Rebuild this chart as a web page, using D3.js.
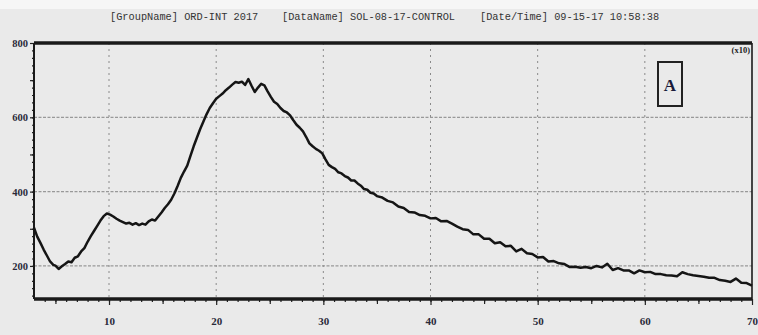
<!DOCTYPE html>
<html>
<head>
<meta charset="utf-8">
<script src="https://cdn.jsdelivr.net/npm/d3@7"></script>
<style>
  html, body { margin: 0; padding: 0; background: #eaeaea; }
  svg { display: block; }
  .tick text { font-family: "Liberation Serif", serif; font-weight: bold; fill: #2a2a3a; }
</style>
</head>
<body>
<div id="chart"></div>
<script>
const headerLabels = ["[GroupName] ORD-INT 2017", "[DataName] SOL-08-17-CONTROL", "[Date/Time] 09-15-17 10:58:38"];
const xTicks = [10, 20, 30, 40, 50, 60, 70];
const yTicks = [200, 400, 600, 800];
const unitLabel = "(x10)";
const panelLabel = "A";

// retention time (min) and intensity
const time = [3.0, 3.3, 3.6, 3.9, 4.2, 4.5, 4.8, 5.0, 5.3, 5.6, 5.9, 6.2, 6.5, 6.8, 7.1, 7.4, 7.7, 8.0, 8.3, 8.6, 8.9,
  9.2, 9.5, 9.8, 10.1, 10.4, 10.7, 11.0, 11.3, 11.6, 11.9, 12.2, 12.5, 12.8, 13.1, 13.4, 13.7, 14.0, 14.3, 14.6, 14.9,
  15.2, 15.5, 15.8, 16.1, 16.4, 16.7, 17.0, 17.3, 17.6, 17.9, 18.2, 18.5, 18.8, 19.1, 19.4, 19.7, 20.0, 20.3, 20.6,
  20.9, 21.2, 21.5, 21.8, 22.1, 22.4, 22.7, 23.0, 23.3, 23.6, 23.9, 24.2, 24.5, 24.8, 25.1, 25.4, 25.7, 26.0, 26.3,
  26.6, 26.9, 27.2, 27.5, 27.8, 28.1, 28.4, 28.7, 29.0, 29.3, 29.6, 29.9, 30.2, 30.5, 30.8, 31.1, 31.4, 31.7, 32.0,
  32.3, 32.6, 32.9, 33.2, 33.5, 33.8, 34.1, 34.4, 34.7, 35.0, 35.5, 36.0, 36.5, 37.0, 37.5, 38.0, 38.5, 39.0, 39.5,
  40.0, 40.5, 41.0, 41.5, 42.0, 42.5, 43.0, 43.5, 44.0, 44.5, 45.0, 45.5, 46.0, 46.5, 47.0, 47.5, 48.0, 48.5, 49.0,
  49.5, 50.0, 50.5, 51.0, 51.5, 52.0, 52.5, 53.0, 53.5, 54.0, 54.5, 55.0, 55.5, 56.0, 56.5, 57.0, 57.5, 58.0, 58.5,
  59.0, 59.5, 60.0, 60.5, 61.0, 61.5, 62.0, 62.5, 63.0, 63.5, 64.0, 64.5, 65.0, 65.5, 66.0, 66.5, 67.0, 67.5, 68.0,
  68.5, 69.0, 69.5, 70.0];
const intensity = [303, 279, 262, 244, 228, 212, 203, 201, 192, 199, 205, 212, 210, 222, 226, 239, 248, 265, 280, 294, 308,
  322, 334, 341, 338, 333, 327, 322, 318, 314, 316, 311, 315, 310, 314, 311, 320, 325, 322, 333, 344,
  356, 366, 378, 395, 415, 437, 454, 470, 496, 522, 545, 568, 588, 608, 625, 638, 650, 657, 664,
  673, 680, 688, 695, 693, 696, 687, 703, 685, 668, 680, 690, 686, 670, 655, 642, 636, 625, 617,
  613, 605, 592, 580, 572, 562, 547, 530, 522, 515, 510, 503, 487, 472, 466, 461, 452, 449, 442,
  438, 430, 430, 422, 416, 407, 405, 397, 395, 388, 384, 375, 371, 360, 356, 345, 344, 337, 335,
  328, 329, 320, 321, 314, 306, 299, 297, 285, 285, 273, 273, 261, 264, 253, 254, 239, 246, 234,
  232, 223, 224, 212, 213, 207, 205, 197, 198, 195, 197, 194, 200, 196, 206, 189, 194, 188, 188,
  180, 188, 183, 184, 178, 178, 175, 174, 172, 183, 178, 175, 173, 171, 168, 168, 162, 160, 157,
  166, 155, 154, 147];

const W = 758, H = 335;
const margin = {left: 34, right: 6, top: 43, bottom: 36};
const iw = W - margin.left - margin.right, ih = H - margin.top - margin.bottom;

const svg = d3.select("#chart").append("svg").attr("width", W).attr("height", H);
svg.append("rect").attr("width", W).attr("height", 9).attr("fill", "#f6f6f6");

const x = d3.scaleLinear().domain([3, 70]).range([0, iw]);
const y = d3.scaleLinear().domain([111, 800]).range([ih, 0]);

// header
const hx = [110, 282, 480];
svg.selectAll("text.hdr").data(headerLabels).enter().append("text")
   .attr("class", "hdr")
   .attr("x", (d, i) => hx[i]).attr("y", 20)
   .attr("font-family", "Liberation Mono, monospace").attr("font-size", 10.3)
   .attr("fill", "#333").text(d => d);

const g = svg.append("g").attr("transform", `translate(${margin.left},${margin.top})`);

// grid
g.selectAll("line.vgrid").data(xTicks.filter(d => d < 70)).enter().append("line")
 .attr("x1", d => x(d)).attr("x2", d => x(d)).attr("y1", 0).attr("y2", ih)
 .attr("stroke", "#8a8a8a").attr("stroke-width", 1).attr("stroke-dasharray", "2,4");
g.selectAll("line.hgrid").data(yTicks.filter(d => d < 800)).enter().append("line")
 .attr("x1", 0).attr("x2", iw).attr("y1", d => y(d)).attr("y2", d => y(d))
 .attr("stroke", "#999").attr("stroke-width", 1.2).attr("stroke-dasharray", "3,1.5");

// axes
const xMinor = g.append("g").attr("transform", `translate(0,${ih})`)
 .call(d3.axisBottom(x).tickValues(d3.range(4, 70)).tickSize(3).tickFormat(""));
const xMid = g.append("g").attr("transform", `translate(0,${ih})`)
 .call(d3.axisBottom(x).tickValues([5, 15, 25, 35, 45, 55, 65]).tickSize(5).tickFormat(""));
const xAxis = g.append("g").attr("transform", `translate(0,${ih})`)
 .call(d3.axisBottom(x).tickValues(xTicks).tickSize(6).tickPadding(12).tickFormat(d3.format("d")));
xAxis.selectAll("text").attr("font-size", 11);

const yMinor = g.append("g")
 .call(d3.axisLeft(y).tickValues(d3.range(120, 800, 20)).tickSize(2).tickFormat(""));
const yMid = g.append("g")
 .call(d3.axisLeft(y).tickValues([300, 500, 700]).tickSize(4).tickFormat(""));
const yAxis = g.append("g")
 .call(d3.axisLeft(y).tickValues(yTicks).tickSize(4).tickPadding(2).tickFormat(d3.format("d")));
yAxis.selectAll("text").attr("font-size", 10.5).attr("dy", "0.35em");

[xMinor, xMid, xAxis, yMinor, yMid, yAxis].forEach(a => {
  a.select(".domain").remove();
  a.selectAll("line").attr("stroke", "#222").attr("stroke-width", 1.2);
});

// frame
g.append("line").attr("x1", 0).attr("x2", iw).attr("y1", 0).attr("y2", 0).attr("stroke", "#1a1a1a").attr("stroke-width", 3.5);
g.append("line").attr("x1", 0).attr("x2", iw).attr("y1", ih).attr("y2", ih).attr("stroke", "#1a1a1a").attr("stroke-width", 3.5);
g.append("line").attr("x1", 0).attr("x2", 0).attr("y1", 0).attr("y2", ih).attr("stroke", "#1a1a1a").attr("stroke-width", 2);
g.append("line").attr("x1", iw).attr("x2", iw).attr("y1", 0).attr("y2", ih).attr("stroke", "#1a1a1a").attr("stroke-width", 1.6);

// trace
const line = d3.line().x((d, i) => x(time[i])).y(d => y(d));
g.append("path").datum(intensity).attr("d", line)
 .attr("fill", "none").attr("stroke", "#151515").attr("stroke-width", 2.5).attr("stroke-linejoin", "round");

// unit label and panel box
g.append("text").attr("x", iw - 2).attr("y", 10).attr("text-anchor", "end")
 .attr("font-family", "Liberation Serif, serif").attr("font-weight", "bold").attr("font-size", 8.5)
 .attr("fill", "#222").text(unitLabel);
g.append("rect").attr("x", 624).attr("y", 19).attr("width", 24).attr("height", 44)
 .attr("fill", "none").attr("stroke", "#222").attr("stroke-width", 2);
g.append("text").attr("x", 636).attr("y", 48).attr("text-anchor", "middle")
 .attr("font-family", "Liberation Serif, serif").attr("font-weight", "bold").attr("font-size", 17)
 .attr("fill", "#1a1a3a").text(panelLabel);
</script>
</body>
</html>
